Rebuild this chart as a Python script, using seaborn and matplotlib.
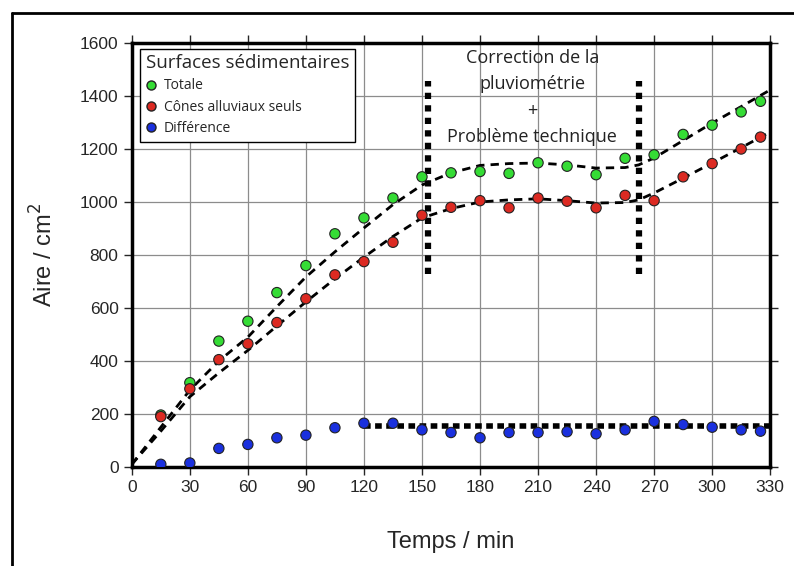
import matplotlib
matplotlib.use("Agg")
import matplotlib.pyplot as plt
from matplotlib.lines import Line2D
import pandas as pd
import seaborn as sns

temps = [15, 30, 45, 60, 75, 90, 105, 120, 135, 150, 165, 180, 195, 210,
         225, 240, 255, 270, 285, 300, 315, 325]
totale = [196, 318, 475, 550, 658, 760, 880, 940, 1015, 1095, 1110, 1115, 1108, 1148,
          1135, 1103, 1165, 1178, 1255, 1290, 1340, 1380]
cones = [190, 295, 405, 465, 545, 635, 725, 775, 848, 950, 980, 1005, 978, 1015,
         1003, 978, 1025, 1005, 1095, 1145, 1200, 1245]
difference = [10, 15, 70, 85, 110, 120, 148, 165, 165, 140, 130, 110, 130, 130,
              133, 125, 140, 172, 160, 150, 140, 135]

# courbes d'ajustement (pointillés)
fit_t = [0, 15, 30, 45, 60, 75, 90, 105, 120, 135, 150, 165, 180, 195, 210,
         225, 240, 255, 262, 270, 285, 300, 315, 330]
fit_totale = [10, 150, 290, 400, 490, 605, 717, 812, 902, 990, 1064, 1110, 1138, 1145, 1147,
              1140, 1128, 1130, 1140, 1166, 1232, 1298, 1360, 1423]
fit_cones = [10, 135, 265, 355, 440, 532, 623, 710, 792, 870, 940, 975, 1000, 1008, 1012,
             1005, 996, 998, 1008, 1034, 1090, 1147, 1205, 1264]
fit_diff_t = [120, 330]
fit_diff = [155, 155]

# zones de correction
vline_t = [153, 262]
vline_y = [730, 1455]

noms = ["Totale", "Cônes alluviaux seuls", "Différence"]
couleurs = ["#35dc35", "#dc2a22", "#1a30de"]

df = pd.DataFrame({
    "Temps": temps * 3,
    "Aire": totale + cones + difference,
    "Surface": [noms[0]] * len(temps) + [noms[1]] * len(temps) + [noms[2]] * len(temps),
})

sns.set_style("ticks")
plt.rcParams["font.family"] = ["Liberation Sans", "DejaVu Sans"]

fig = plt.figure(figsize=(7.94, 5.66), dpi=100)
ax = fig.add_axes([0.166, 0.175, 0.804, 0.749])

ax.grid(True, color="#8c8c8c", linewidth=0.9)
ax.set_axisbelow(True)

dash = dict(color="black", linewidth=2, dashes=(3, 2.2))
sns.lineplot(x=fit_t, y=fit_totale, ax=ax, zorder=2, **dash)
sns.lineplot(x=fit_t, y=fit_cones, ax=ax, zorder=2, **dash)
sns.lineplot(x=fit_diff_t, y=fit_diff, ax=ax, color="black", linewidth=4,
             dashes=(1.2, 0.8), zorder=2)
for t in vline_t:
    ax.plot([t, t], vline_y, color="black", linewidth=4.5,
            dashes=(1.0, 1.0), zorder=2)

sns.scatterplot(data=df, x="Temps", y="Aire", hue="Surface", hue_order=noms,
                palette=couleurs, s=55, edgecolor="#222222", linewidth=0.8,
                ax=ax, zorder=3, legend=False)

ax.set_xlim(0, 330)
ax.set_ylim(0, 1600)
ax.set_xticks(range(0, 331, 30))
ax.set_yticks(range(0, 1601, 200))
ax.tick_params(axis="both", which="both", direction="out", length=6, width=1,
               labelsize=12.5, top=True, right=True, labeltop=False, labelright=False)
for s in ax.spines.values():
    s.set_linewidth(2.5)
    s.set_color("black")

ax.set_xlabel("Temps / min", fontsize=17, labelpad=26)
ax.set_ylabel("Aire / cm$^2$", fontsize=17, labelpad=16)

myriad = ["Open Sans", "DejaVu Sans"]
handles = [Line2D([], [], marker="o", linestyle="", markersize=6.5,
                  markerfacecolor=c, markeredgecolor="#222222") for c in couleurs]
leg = ax.legend(handles, noms, title="Surfaces sédimentaires", loc="upper left",
                bbox_to_anchor=(0.002, 1.003), fancybox=False, framealpha=1,
                edgecolor="black", handlelength=0.8, handletextpad=0.5,
                labelspacing=0.45, borderpad=0.4, prop={"family": myriad, "size": 10})
leg.get_title().set_fontfamily(myriad)
leg.get_title().set_fontsize(13.5)
leg._legend_box.align = "left"
leg.get_frame().set_linewidth(1)

ax.text(207, 1395, "Correction de la\npluviométrie\n+\nProblème technique",
        ha="center", va="center", fontsize=13, family=myriad, linespacing=1.6,
        color="#222222")

# cadre de la figure
fig.add_artist(Line2D([0.015, 0.015], [0.0, 0.977], color="black", linewidth=2))
fig.add_artist(Line2D([0.015, 1.0], [0.977, 0.977], color="black", linewidth=2))

fig.savefig("out.png", dpi=100)
